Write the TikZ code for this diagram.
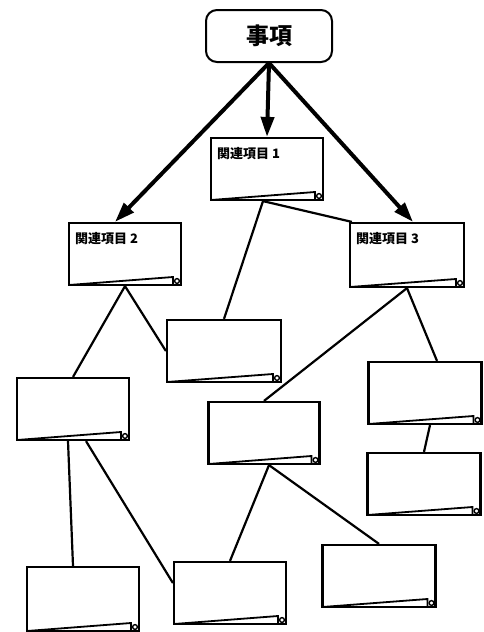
\documentclass[tikz,border=0pt]{standalone}
\usepackage{fontspec}
\newfontfamily\jpfont{Noto Sans CJK JP}
\usetikzlibrary{arrows.meta}

\begin{document}
\begin{tikzpicture}[x=1pt,y=-1pt,
    topic/.style={draw, line width=2pt, rounded corners=11pt, minimum width=126pt, minimum height=52pt, font=\jpfont\bfseries\fontsize{23}{23}\selectfont},
    card/.style={draw, line width=2.2pt, minimum width=112pt, minimum height=62pt, inner sep=0pt,
        path picture={
            \draw[line width=1.8pt] (path picture bounding box.south west) -- ([shift={(-8pt,8pt)}]path picture bounding box.south east) -- ([xshift=-8pt]path picture bounding box.south east);
            \draw[line width=1.4pt] ([shift={(-4pt,4pt)}]path picture bounding box.south east) circle (2.4pt);
        }},
    cardtitle/.style={anchor=north west, inner sep=0pt, xshift=7pt, yshift=-10pt, font=\jpfont\bfseries\fontsize{13}{13}\selectfont},
    link/.style={line width=2.2pt},
    pointer/.style={line width=4pt, -{Triangle[length=20pt,width=13pt]}}]
            \useasboundingbox (0,0) rectangle (484,632);

            \node[topic] (jiko) at (269,36) {事項};

            \node[card, label={[cardtitle]north west:関連項目 1}] (kanren1) at (267,169) {};
            \node[card, label={[cardtitle]north west:関連項目 2}] (kanren2) at (125,254) {};
            \node[card, minimum width=114pt, minimum height=64pt, label={[cardtitle]north west:関連項目 3}] (kanren3) at (407,255) {};

            \node[card, minimum width=114pt] (sub1) at (224,351) {};
            \node[card] (sub2) at (73,409) {};
            \node[card, minimum width=111pt] (sub3) at (264,433) {};
            \node[card, minimum width=113pt] (sub4) at (425,393) {};
            \node[card, minimum width=113pt] (sub5) at (424,484) {};
            \node[card, minimum height=64pt] (sub6) at (83,599) {};
            \node[card] (sub7) at (230,593) {};
            \node[card, minimum width=113pt] (sub8) at (379,576) {};

            \draw[pointer] (jiko.south) to (kanren1.north);
            \draw[pointer] (jiko.south) to ([xshift=-10pt]kanren2.north);
            \draw[pointer] (jiko.south) to ([xshift=6pt]kanren3.north);

            \draw[link] ([xshift=-4pt]kanren1.south) to (sub1.north);
            \draw[link] ([xshift=-4pt]kanren1.south) to ([xshift=3pt]kanren3.north west);
            \draw[link] (kanren2.south) to (sub2.north);
            \draw[link] (kanren2.south) to (sub1.west);
            \draw[link] (kanren3.south) to (sub3.north);
            \draw[link] (kanren3.south) to ([xshift=12pt]sub4.north);
            \draw[link] ([xshift=5pt]sub4.south) to (sub5.north);
            \draw[link] ([xshift=-5pt]sub2.south) to ([xshift=-10pt]sub6.north);
            \draw[link] ([xshift=13pt]sub2.south) to ([yshift=10pt]sub7.west);
            \draw[link] ([xshift=5pt]sub3.south) to (sub7.north);
            \draw[link] ([xshift=5pt]sub3.south) to (sub8.north);
        \end{tikzpicture}
\end{document}
